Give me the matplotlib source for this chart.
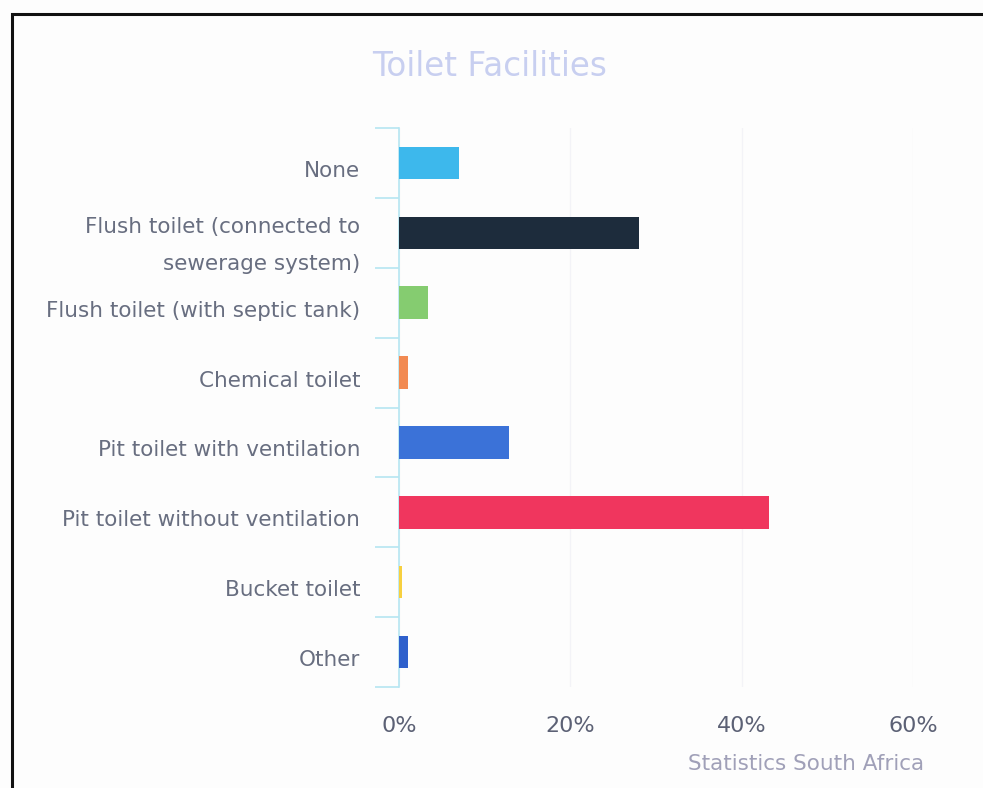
import matplotlib
matplotlib.use("Agg")
import matplotlib.pyplot as plt
from matplotlib.patches import Rectangle
from matplotlib.ticker import FixedLocator, FuncFormatter
from matplotlib.transforms import ScaledTranslation

categories = [
    "None",
    "Flush toilet (connected to\nsewerage system)",
    "Flush toilet (with septic tank)",
    "Chemical toilet",
    "Pit toilet with ventilation",
    "Pit toilet without ventilation",
    "Bucket toilet",
    "Other",
]
shares = [7.0, 28.0, 3.4, 1.1, 12.8, 43.2, 0.4, 1.0]
bar_colors = ["#3db8ec", "#1d2c3c", "#85cc70", "#f28a52",
              "#3b72d8", "#f0365e", "#f7d040", "#2f60cc"]
x_ticks = [0, 20, 40, 60]

W, H = 983, 788
fig = plt.figure(figsize=(W / 100, H / 100), dpi=100)
fig.patch.set_facecolor("#fdfdfd")

# outer frame
fig.add_artist(Rectangle((12 / W, 1 - 980 / H), 1.2, 966 / H,
                         transform=fig.transFigure, fill=False,
                         edgecolor="#111111", linewidth=2.2))

ax = fig.add_axes([399 / W, 1 - 687 / H, (913 - 399) / W, (687 - 128) / H])
ax.set_facecolor("none")

ypos = list(range(len(categories)))
ax.barh(ypos, shares, height=0.465, color=bar_colors, zorder=3)

ax.set_xlim(0, 60)
ax.set_ylim(len(categories) - 0.5, -0.5)

for s in ["top", "right", "bottom"]:
    ax.spines[s].set_visible(False)
ax.spines["left"].set_color("#b6e6f2")
ax.spines["left"].set_linewidth(1.2)

ax.set_yticks(ypos)
ax.set_yticklabels(categories, fontsize=15.5, color="#686e80",
                   linespacing=2.07, ha="right")
ax.tick_params(axis="y", which="major", length=0, pad=28)
ax.yaxis.set_minor_locator(FixedLocator([i - 0.5 for i in range(len(categories) + 1)]))
ax.tick_params(axis="y", which="minor", length=17, width=1.2, color="#b6e6f2")
for lab in ax.get_yticklabels():
    dy = 2 if "\n" in lab.get_text() else 6
    lab.set_transform(lab.get_transform()
                      + ScaledTranslation(0, -dy / 100, fig.dpi_scale_trans))

ax.set_xticks(x_ticks)
ax.xaxis.set_major_formatter(FuncFormatter(lambda v, p: f"{v:.0f}%"))
ax.tick_params(axis="x", length=0, pad=21, labelsize=16, labelcolor="#5c6175")
ax.grid(axis="x", color="#f3f3f7", linewidth=1, zorder=0)

fig.text(490 / W, 1 - 67 / H, "Toilet Facilities", ha="center", va="center",
         fontsize=23.5, color="#c8cff0")
fig.text(924 / W, 1 - 764 / H, "Statistics South Africa", ha="right",
         va="center", fontsize=15.5, color="#a0a0b8")

fig.savefig("out.png", dpi=100, facecolor=fig.get_facecolor())
